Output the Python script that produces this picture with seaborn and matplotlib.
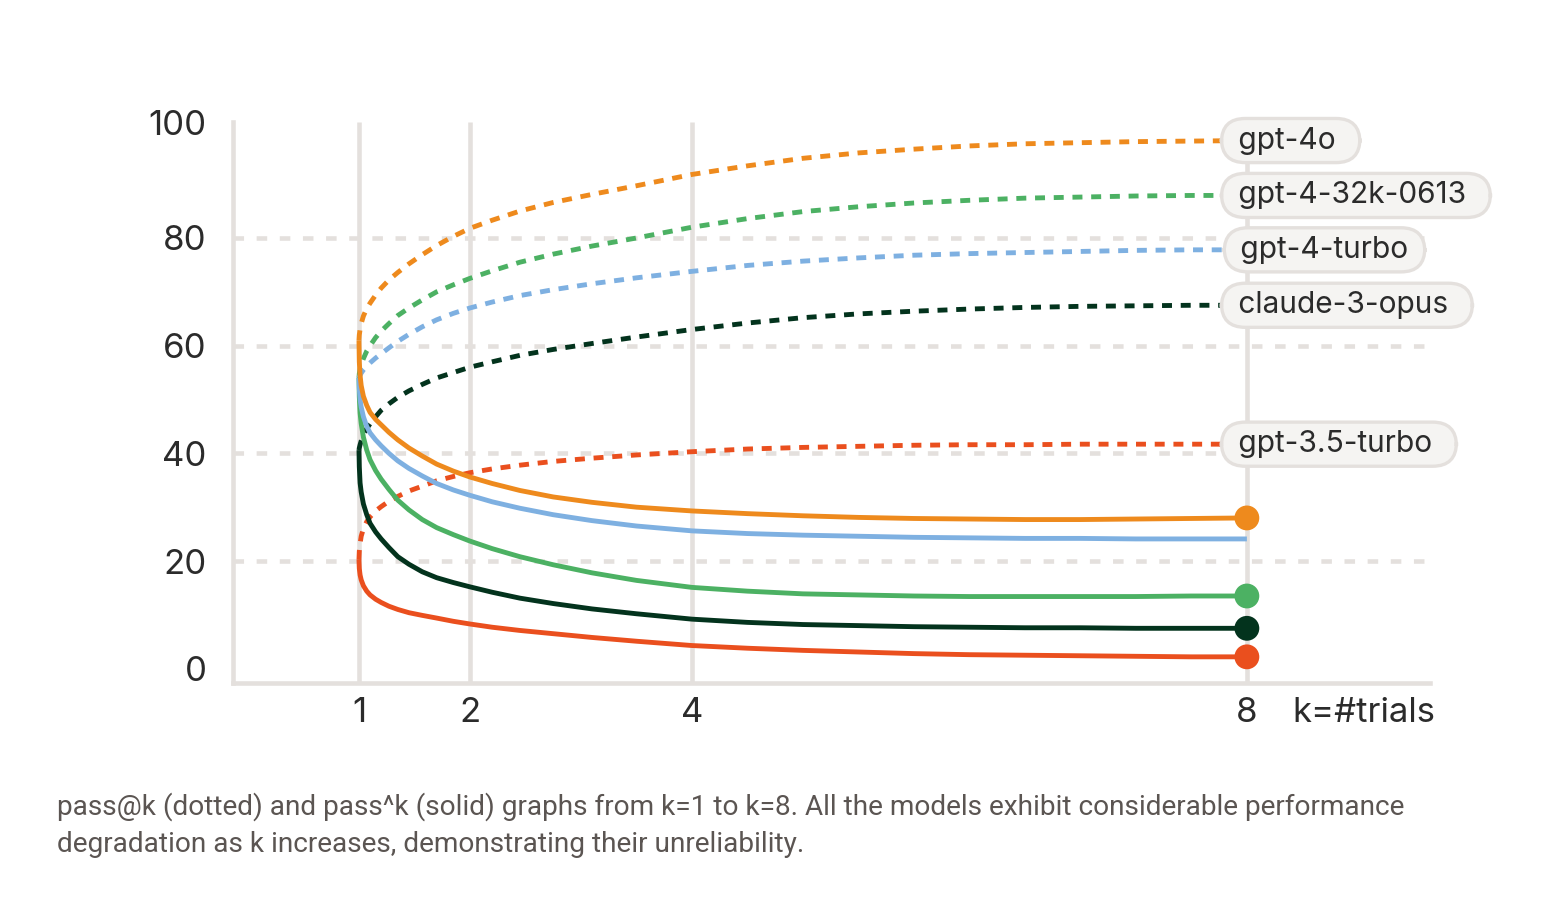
import matplotlib
matplotlib.use('agg')
import matplotlib.pyplot as plt
import seaborn as sns
import pandas as pd

# horizontal position in chart units (tick "8" sits at 9 on the original layout)
x_pos = [1.0, 1.003, 1.01, 1.02, 1.04, 1.07, 1.1, 1.15, 1.2, 1.27, 1.35, 1.45, 1.57, 1.7, 1.85, 2.0,
         2.2, 2.45, 2.75, 3.1, 3.5, 4.0, 4.5, 5.0, 5.5, 6.0, 6.5, 7.0, 7.5, 8.0, 8.5, 9.0]
tick_pos = [1, 2, 4, 9, 10.05]
tick_labels = ['1', '2', '4', '8', 'k=#trials']

models = ['gpt-3.5-turbo', 'claude-3-opus', 'gpt-4-32k-0613', 'gpt-4-turbo', 'gpt-4o']
colors = {'gpt-4o': '#ee8a1d', 'gpt-4-32k-0613': '#4cb163', 'gpt-4-turbo': '#7eb0e1',
          'claude-3-opus': '#03331d', 'gpt-3.5-turbo': '#ea4f1e'}
has_dot = ['gpt-4o', 'gpt-4-32k-0613', 'claude-3-opus', 'gpt-3.5-turbo']

# pass@k (dotted)
pass_at = {
    'gpt-4o': [61, 62.0, 63.0, 64.1, 65.5, 66.9, 67.9, 69.4, 70.7, 72.2, 73.6, 75.2, 76.9, 78.6, 80.3, 81.8,
               83.3, 85.0, 86.6, 88.1, 89.7, 91.8, 93.4, 94.8, 95.8, 96.5, 97.1, 97.5, 97.7, 97.9, 98.0, 98.1],
    'gpt-4-32k-0613': [54, 54.8, 55.6, 56.5, 57.6, 59.0, 60.0, 61.5, 62.7, 64.1, 65.6, 67.0, 68.5, 70.0, 71.3, 72.5,
                       73.9, 75.5, 77.0, 78.5, 80.0, 82.0, 83.6, 84.9, 85.8, 86.5, 87.0, 87.4, 87.6, 87.8, 87.9, 87.9],
    'gpt-4-turbo': [54, 54.2, 54.5, 54.9, 55.5, 56.2, 56.8, 57.7, 58.5, 59.6, 60.8, 62.1, 63.5, 64.8, 66.0, 67.0,
                    68.1, 69.3, 70.4, 71.5, 72.6, 73.8, 74.9, 75.7, 76.3, 76.8, 77.1, 77.3, 77.5, 77.7, 77.8, 77.8],
    'claude-3-opus': [40.6, 41.0, 41.6, 42.3, 43.4, 44.6, 45.5, 46.8, 48.0, 49.2, 50.4, 51.6, 52.8, 54.0, 55.0, 56.0,
                      57.0, 58.2, 59.3, 60.4, 61.6, 63.0, 64.2, 65.2, 65.9, 66.4, 66.8, 67.1, 67.3, 67.4, 67.5, 67.5],
    'gpt-3.5-turbo': [20.2, 21.8, 23.2, 24.6, 26.0, 27.3, 28.2, 29.3, 30.1, 31.1, 32.0, 33.0, 33.9, 34.9, 35.7, 36.4,
                      37.1, 37.8, 38.5, 39.1, 39.7, 40.3, 40.8, 41.1, 41.3, 41.5, 41.6, 41.6, 41.7, 41.7, 41.7, 41.7],
}
# pass^k (solid)
pass_pow = {
    'gpt-4o': [61, 57.0, 54.5, 52.6, 50.6, 48.9, 47.6, 46.3, 45.3, 43.9, 42.5, 41.0, 39.5, 38.0, 36.7, 35.6,
               34.4, 33.1, 31.9, 30.9, 30.0, 29.3, 28.8, 28.4, 28.1, 27.9, 27.8, 27.7, 27.7, 27.8, 27.9, 28.0],
    'gpt-4-32k-0613': [54, 50.5, 47.5, 45.5, 43.0, 40.6, 38.8, 36.8, 35.2, 33.3, 31.3, 29.5, 27.7, 26.2, 24.9, 23.7,
                       22.3, 20.8, 19.3, 17.8, 16.4, 15.1, 14.4, 13.9, 13.7, 13.5, 13.4, 13.4, 13.4, 13.4, 13.5, 13.5],
    'gpt-4-turbo': [54, 52.0, 50.0, 48.6, 46.8, 45.0, 43.8, 42.5, 41.4, 40.0, 38.6, 37.2, 35.8, 34.4, 33.2, 32.2,
                    31.0, 29.8, 28.6, 27.5, 26.5, 25.6, 25.1, 24.8, 24.6, 24.4, 24.3, 24.2, 24.2, 24.1, 24.1, 24.1],
    'claude-3-opus': [40.6, 37.5, 34.5, 32.8, 30.6, 28.6, 27.0, 25.4, 24.1, 22.5, 20.8, 19.4, 18.0, 16.9, 16.0, 15.2,
                      14.2, 13.1, 12.1, 11.1, 10.2, 9.2, 8.6, 8.2, 8.0, 7.8, 7.7, 7.6, 7.6, 7.5, 7.5, 7.5],
    'gpt-3.5-turbo': [20.2, 18.6, 17.4, 16.5, 15.4, 14.4, 13.7, 12.9, 12.3, 11.6, 11.0, 10.4, 9.9, 9.4, 8.8, 8.3,
                      7.7, 7.1, 6.5, 5.8, 5.1, 4.3, 3.8, 3.4, 3.1, 2.8, 2.6, 2.5, 2.4, 2.3, 2.2, 2.2],
}

rows = []
for m in models:
    for metric, src in (('pass@k', pass_at), ('pass^k', pass_pow)):
        for x, v in zip(x_pos, src[m]):
            rows.append({'pos': x, 'score': v, 'model': m, 'metric': metric})
df = pd.DataFrame(rows)
ends = df[(df.metric == 'pass^k') & (df.pos == x_pos[-1]) & df.model.isin(has_dot)]
label_vals = df[(df.metric == 'pass@k') & (df.pos == x_pos[-1])]

sns.set_style('white')
plt.rcParams['font.family'] = ['Inter', 'DejaVu Sans']
plt.rcParams['lines.solid_capstyle'] = 'butt'

grid_c = '#e4e0dd'
text_c = '#2b2b2b'
LW = 3.5
GLW = 3.3
DASH = (2.05, 1.8)

fig = plt.figure(figsize=(15.52, 8.98), dpi=100)
ax = fig.add_axes([233 / 1552, (898 - 683) / 898, 1197 / 1552, 561.3 / 898])
ax.set_xlim(-0.135, 10.65)
ax.set_ylim(-2.66, 101.6)

for y in [20, 40, 60, 80]:
    ax.axhline(y, color=grid_c, lw=GLW, dashes=(2.3, 2.75), zorder=1)
for x in tick_pos[:4]:
    ax.axvline(x, color=grid_c, lw=GLW, zorder=1)

n_before = len(ax.lines)
sns.lineplot(data=df, x='pos', y='score', hue='model', style='metric',
             palette=colors, dashes={'pass@k': DASH, 'pass^k': ''},
             linewidth=LW, estimator=None, sort=False, legend=False, ax=ax, zorder=3)
for ln in ax.lines[n_before:]:
    ln.set_linewidth(LW)
    if ln.get_linestyle() != '-':
        ln.set_dashes(DASH)

sns.scatterplot(data=ends, x='pos', y='score', hue='model', palette=colors,
                s=320, linewidth=0, legend=False, ax=ax, zorder=4)

for _, r in label_vals.iterrows():
    if r.model == 'gpt-4-turbo':
        dx, txt = -10.5, ' ' + r.model + ' '
    else:
        dx, txt = -12.5, ' ' + r.model + '  '
    ax.annotate(txt, xy=(r.pos, r.score), xytext=(dx, 0),
                textcoords='offset points', ha='left', va='center',
                fontsize=21.5, color=text_c, zorder=6,
                bbox=dict(boxstyle='round,pad=0.27,rounding_size=0.8',
                          fc='#f5f4f2', ec=grid_c, lw=2.4))

for side in ['top', 'right']:
    ax.spines[side].set_visible(False)
for side in ['left', 'bottom']:
    ax.spines[side].set_color(grid_c)
    ax.spines[side].set_linewidth(GLW)

ax.set_xticks(tick_pos)
ax.set_xticklabels(tick_labels)
ax.set_yticks([0, 20, 40, 60, 80, 101.5])
ax.set_yticklabels(['0', '20', '40', '60', '80', '100'])
ax.tick_params(axis='both', length=0, labelsize=25, colors=text_c)
ax.tick_params(axis='y', pad=19)
ax.tick_params(axis='x', pad=10)
ax.set_xlabel('')
ax.set_ylabel('')

fig.text(57 / 1552, 1 - 825 / 898,
         'pass@k (dotted) and pass^k (solid) graphs from k=1 to k=8. All the models exhibit considerable performance\n'
         'degradation as k increases, demonstrating their unreliability.',
         fontsize=20.2, color='#5b5552', family=['Roboto', 'DejaVu Sans'],
         ha='left', va='center', linespacing=1.5)

fig.savefig('out.png', dpi=100, facecolor='white')
